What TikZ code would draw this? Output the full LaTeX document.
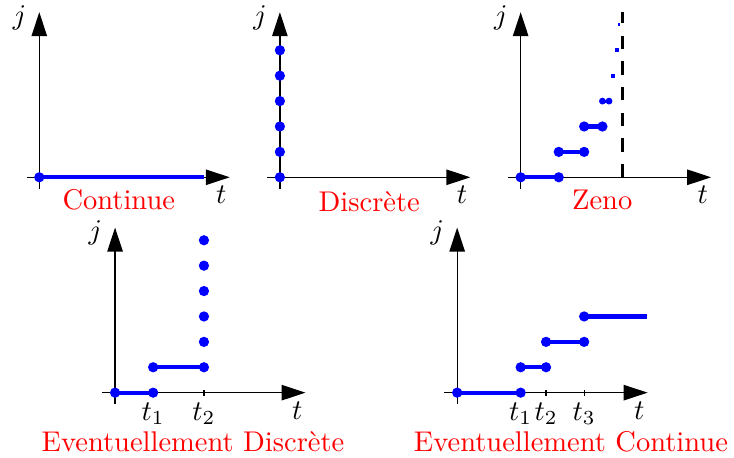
\documentclass[tikz,border=0pt]{standalone}
\usepackage{amsmath}
\usepackage{tikz}
\usetikzlibrary{arrows.meta}

\tikzset{
  axis/.style={line width=0.45pt, -{Triangle[length=8.4pt,width=5.4pt]}},
  traj/.style={blue, line width=1.5pt},
  saut/.style={fill=blue},
  titre/.style={red},
}
% axes d'un domaine hybride, #1 = prefixe des noms
\newcommand{\drawaxes}[1]{%
  \draw[axis] (-0.5,0) -- (7.5,0);
  \draw[axis] (0,-0.45) -- (0,6.5);
  \node (#1-j) at (-0.78,6.29) {$j$};
  \node (#1-t) at (7.17,-0.7) {$t$};
}

\begin{document}
\begin{tikzpicture}[x=8.91pt, y=8.91pt]
  \useasboundingbox (0,0) rectangle (28.9,-18.03);

  % Continue
  \begin{scope}[shift={(1.547,-6.98)}]
    \drawaxes{cont}
    \draw[traj] (0,0) -- (6.5,0);
    \fill[saut] (0,0) circle (1.8pt);
    \node[titre] (cont-titre) at (3.13,-0.89) {Continue};
  \end{scope}

  % Discrete
  \begin{scope}[shift={(11.02,-6.98)}]
    \drawaxes{disc}
    \foreach \k in {0,...,5}
      \fill[saut] (0,\k) circle (1.8pt);
    \node[titre] (disc-titre) at (3.52,-0.95) {Discrète};
  \end{scope}

  % Zeno
  \begin{scope}[shift={(20.5,-6.98)}]
    \drawaxes{zeno}
    \draw[line width=0.9pt, dash pattern=on 4.7pt off 4.3pt] (4,0) -- (4,6.5);
    \draw[traj] (0,0) -- (1.5,0);
    \draw[traj] (1.5,1) -- (2.5,1);
    \draw[traj] (2.5,2) -- (3.22,2);
    \draw[traj, line width=1pt] (3.22,3) -- (3.48,3);
    \foreach \a/\b in {0/0, 1.5/0, 1.5/1, 2.5/1, 2.5/2, 3.22/2}
      \fill[saut] (\a,\b) circle (1.8pt);
    \foreach \a in {3.22, 3.48}
      \fill[saut] (\a,3) circle (1.2pt);
    \fill[saut] (3.65,4) +(-0.08,-0.08) rectangle +(0.08,0.08);
    \fill[saut] (3.81,5) +(-0.08,-0.08) rectangle +(0.08,0.08);
    \fill[saut] (3.87,6) +(-0.03,-0.06) rectangle +(0.03,0.06);
    \node[titre] (zeno-titre) at (3.21,-0.89) {Zeno};
  \end{scope}

  % Eventuellement discrete
  \begin{scope}[shift={(4.53,-15.46)}]
    \drawaxes{evd}
    \draw (3.5,-0.12) -- (3.5,0.12);
    \draw[traj] (0,0) -- (1.5,0);
    \draw[traj] (1.5,1) -- (3.5,1);
    \foreach \a/\b in {0/0, 1.5/0, 1.5/1}
      \fill[saut] (\a,\b) circle (1.8pt);
    \foreach \k in {1,...,6}
      \fill[saut] (3.5,\k) circle (1.8pt);
    \node[below] (evd-t1) at (1.5,0) {$t_1$};
    \node[below] (evd-t2) at (3.5,0) {$t_2$};
    \node[titre] (evd-titre) at (3.07,-1.95) {Eventuellement Discrète};
  \end{scope}

  % Eventuellement continue
  \begin{scope}[shift={(18.0,-15.46)}]
    \drawaxes{evc}
    \draw (3.5,-0.12) -- (3.5,0.12);
    \draw (5,-0.12) -- (5,0.12);
    \draw[traj] (0,0) -- (2.5,0);
    \draw[traj] (2.5,1) -- (3.5,1);
    \draw[traj] (3.5,2) -- (5,2);
    \draw[traj] (5,3) -- (7.46,3);
    \foreach \a/\b in {0/0, 2.5/0, 2.5/1, 3.5/1, 3.5/2, 5/2, 5/3}
      \fill[saut] (\a,\b) circle (1.8pt);
    \node[below] (evc-t1) at (2.5,0) {$t_1$};
    \node[below] (evc-t2) at (3.5,0) {$t_2$};
    \node[below] (evc-t3) at (5,0) {$t_3$};
    \node[titre] (evc-titre) at (4.48,-1.95) {Eventuellement Continue};
  \end{scope}
\end{tikzpicture}
\end{document}
